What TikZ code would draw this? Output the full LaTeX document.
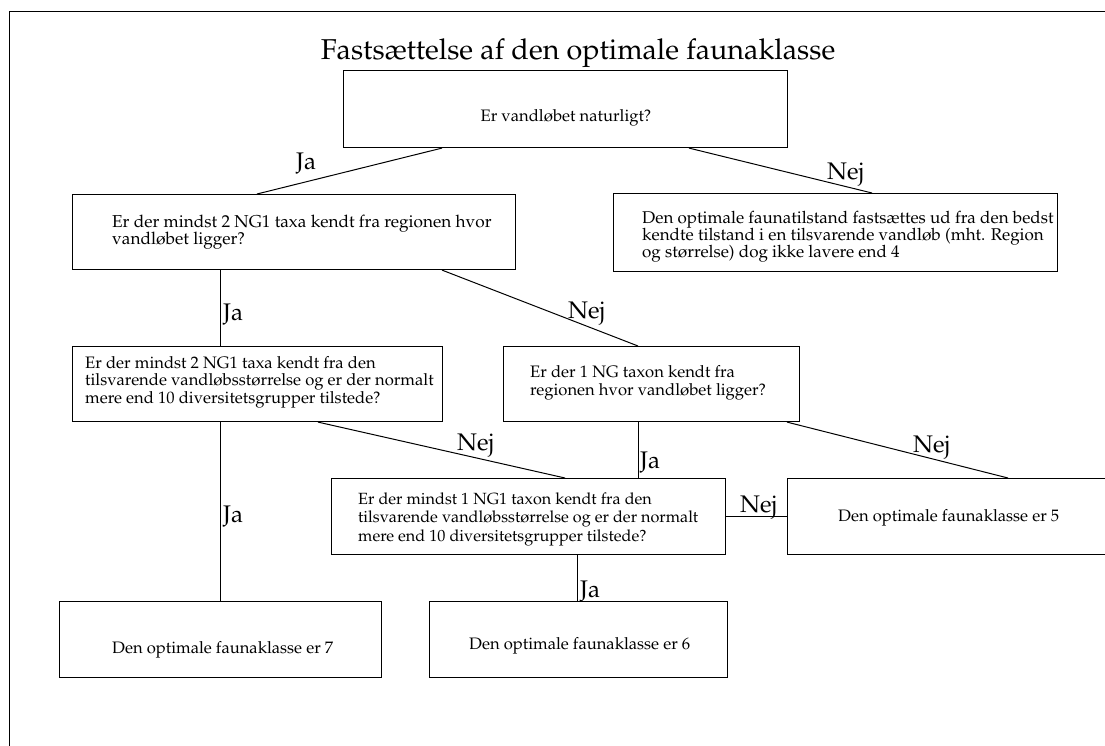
\documentclass[tikz,border=0pt]{standalone}
\usepackage[T1]{fontenc}
\usepackage{mathpazo}
\usetikzlibrary{calc}
\begin{document}
\begin{tikzpicture}[x=1pt,y=-1pt,
  box/.style={draw, line width=1.1pt, inner sep=0, anchor=north west},
  conn/.style={line width=1pt},
  frame/.style={line width=1pt},
  lbl/.style={font=\fontsize{24}{28}\selectfont, inner sep=0, anchor=base west},
  txt/.style={font=\fontsize{16.6}{17.8}\selectfont, inner sep=0, anchor=base west},
  ttl/.style={font=\fontsize{28.7}{32}\selectfont, inner sep=0, anchor=base}]
\useasboundingbox (0,0) rectangle (1105,746);
% frame
\coordinate (f1) at (9.5,746);
\coordinate (f2) at (9.5,12);
\coordinate (f3) at (1105,12);
\draw[frame] (f1) -- (f2) -- (f3);
% title
\node[ttl] (title) at (578,60) {Fasts\ae ttelse af den optimale faunaklasse};
% boxes
\node[box, minimum width=444pt, minimum height=77pt] (A) at (343,70) {};
\node[box, minimum width=443pt, minimum height=75pt] (B) at (72,194) {};
\node[box, minimum width=444pt, minimum height=78pt] (C) at (613,193) {};
\node[box, minimum width=370pt, minimum height=75pt] (D) at (72,346) {};
\node[box, minimum width=296pt, minimum height=75pt] (E) at (503,346) {};
\node[box, minimum width=394pt, minimum height=76pt] (F) at (331,478) {};
\node[box, minimum width=321pt, minimum height=76pt] (G) at (787,478) {};
\node[box, minimum width=322pt, minimum height=76pt] (H) at (59,601) {};
\node[box, minimum width=298pt, minimum height=76pt] (I) at (429,601) {};
% texts
\node[txt, anchor=base] (tA) at (566,122) {Er vandl\o bet naturligt?};
\node[txt, font=\fontsize{17.2}{17}\selectfont] (tB) at (112,227) {\begin{tabular}[t]{@{}l@{}}Er der mindst 2 NG1 taxa kendt fra regionen hvor\\ vandl\o bet ligger?\end{tabular}};
\node[txt, font=\fontsize{17}{17}\selectfont] (tC) at (642,223) {\begin{tabular}[t]{@{}l@{}}Den optimale faunatilstand fasts\ae ttes ud fra den bedst\\ kendte tilstand i en tilsvarende vandl\o b (mht. Region\\ og st\o rrelse) dog ikke lavere end 4\end{tabular}};
\node[txt, font=\fontsize{16.6}{17.5}\selectfont] (tD) at (85,368) {\begin{tabular}[t]{@{}l@{}}Er der mindst 2 NG1 taxa kendt fra den\\ tilsvarende vandl\o bsst\o rrelse og er der normalt\\ mere end 10 diversitetsgrupper tilstede?\end{tabular}};
\node[txt, font=\fontsize{16.6}{18}\selectfont] (tE) at (530,377) {\begin{tabular}[t]{@{}l@{}}Er der 1 NG taxon kendt fra\\ regionen hvor vandl\o bet ligger?\end{tabular}};
\node[txt, font=\fontsize{16.2}{18.5}\selectfont] (tF) at (358,504) {\begin{tabular}[t]{@{}l@{}}Er der mindst 1 NG1 taxon kendt fra den\\ tilsvarende vandl\o bsst\o rrelse og er der normalt\\ mere end 10 diversitetsgrupper tilstede?\end{tabular}};
\node[txt] (tG) at (838,521) {Den optimale faunaklasse er 5};
\node[txt] (tH) at (112,653) {Den optimale faunaklasse er 7};
\node[txt] (tI) at (469,649) {Den optimale faunaklasse er 6};
% connectors
\draw[conn] ($(A.south west)+(99,0)$) -- ($(B.north west)+(185,0)$);
\draw[conn] ($(A.south west)+(346,0)$) -- ($(C.north west)+(259,0)$);
\draw[conn] ($(B.south west)+(148,0)$) -- ($(D.north west)+(148,0)$);
\draw[conn] ($(B.south west)+(370,0)$) -- ($(E.north west)+(135,0)$);
\draw[conn] ($(D.south west)+(148,0)$) -- ($(H.north west)+(161,0)$);
\draw[conn] ($(D.south west)+(246,0)$) -- ($(F.north west)+(234,0)$);
\draw[conn] ($(E.south west)+(135,0)$) -- ($(F.north west)+(307,0)$);
\draw[conn] ($(E.south west)+(284,0)$) -- ($(G.north west)+(221,0)$);
\draw[conn] (F.east) -- (G.west);
\draw[conn] ($(F.south west)+(246,0)$) -- ($(I.north west)+(148,0)$);
% labels
\node[lbl] (l1) at (296,170) {Ja};
\node[lbl] (l2) at (827,180) {Nej};
\node[lbl] (l3) at (223,320) {Ja};
\node[lbl] (l4) at (568,318) {Nej};
\node[lbl] (l5) at (223,522) {Ja};
\node[lbl] (l6) at (457,450) {Nej};
\node[lbl] (l7) at (640,468) {Ja};
\node[lbl] (l8) at (913,452) {Nej};
\node[lbl] (l9) at (740,512) {Nej};
\node[lbl] (l10) at (580,597) {Ja};
\end{tikzpicture}
\end{document}
